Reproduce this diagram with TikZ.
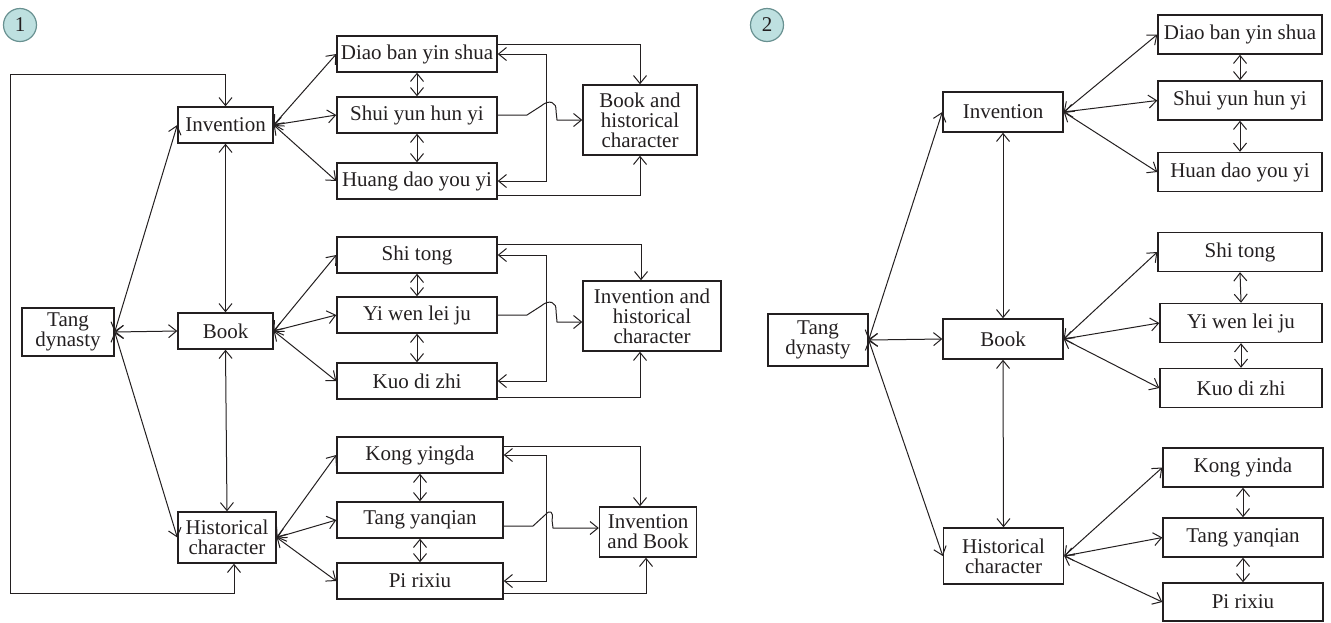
\documentclass[tikz,border=0pt]{standalone}
\usepackage{fontspec}
\setmainfont{Liberation Serif}
\usetikzlibrary{arrows.meta}
\definecolor{inkgray}{RGB}{35,31,32}
\definecolor{tealfill}{RGB}{190,224,224}
\definecolor{tealline}{RGB}{105,145,145}

\begin{document}
\begin{tikzpicture}[x=0.5pt,y=-0.5pt, color=inkgray, line width=0.5pt,
    >={Straight Barb[length=4pt,width=6.5pt]},
    every node/.style={font=\fontsize{10.5}{10}\selectfont, text=inkgray},
    box/.style={draw=inkgray, line width=0.7pt, inner sep=0pt, align=center},
    leafbox/.style={box, minimum width=80pt, minimum height=18pt},
    midbox/.style={box, minimum width=47.5pt, minimum height=18pt},
    numdot/.style={circle, draw=tealline, fill=tealfill, line width=0.6pt, minimum size=16.5pt, inner sep=0pt}]
		\useasboundingbox (0,0) rectangle (1331,622);

		\node[numdot] (num1) at (20,25) {1};
		\node[box, minimum width=46pt, minimum height=24pt] (tang1) at (68,332) {Tang\\dynasty};
		\node[midbox] (inv1) at (225.5,125) {Invention};
		\node[midbox] (book1) at (225.5,331) {Book};
		\node[box, minimum width=49pt, minimum height=25.5pt] (hist1) at (227,537.5) {Historical\\character};
		\node[leafbox] (diao1) at (417,54) {Diao ban yin shua};
		\node[leafbox] (shui1) at (417,115) {Shui yun hun yi};
		\node[leafbox] (huang1) at (417,181) {Huang dao you yi};
		\node[box, minimum width=57pt, minimum height=35pt] (bh1) at (640,120) {Book and\\historical\\character};
		\node[leafbox] (shi1) at (417,255) {Shi tong};
		\node[leafbox] (yiwen1) at (417,315) {Yi wen lei ju};
		\node[leafbox] (kuo1) at (417,381) {Kuo di zhi};
		\node[box, minimum width=69pt, minimum height=35pt] (ih1) at (652,316) {Invention and\\historical\\character};
		\node[leafbox, minimum width=83pt] (kong1) at (420,455) {Kong yingda};
		\node[leafbox, minimum width=83pt] (tangy1) at (420,520) {Tang yanqian};
		\node[leafbox, minimum width=83pt] (pi1) at (420,581) {Pi rixiu};
		\node[box, minimum width=48.5pt, minimum height=25pt] (ib1) at (648,532) {Invention\\and Book};

		\draw[<->] (tang1.east) -- (inv1.west);
		\draw[<->] (tang1.east) -- (book1.west);
		\draw[<->] (tang1.east) -- (hist1.west);
		\draw[<->] (inv1.south) -- (book1.north);
		\draw[<->] (book1.south) -- (hist1.north);
		\draw[<->] (inv1.north) |- (10,74) -- (10,593) -| ([xshift=3.5pt]hist1.south);

		\draw[<->] (inv1.east) -- (diao1.west);
		\draw[<->] (inv1.east) -- (shui1.west);
		\draw[<->] (inv1.east) -- (huang1.west);
		\draw[<->] (diao1.south) -- (shui1.north);
		\draw[<->] (shui1.south) -- (huang1.north);
		\draw[->] ([yshift=5pt]diao1.east) -| (bh1.north);
		\draw[<->] (diao1.east) -- (546,54) -- (546,181) -- (huang1.east);
		\draw[->] ([yshift=-7pt]huang1.east) -| (bh1.south);
		\draw[->] (shui1.east) -- (527,115) -- (541,106) .. controls (549,99) and (557,102) .. (556,111) -- (557,120) -- (bh1.west);

		\draw[<->] (book1.east) -- (shi1.west);
		\draw[<->] (book1.east) -- (yiwen1.west);
		\draw[<->] (book1.east) -- (kuo1.west);
		\draw[<->] (shi1.south) -- (yiwen1.north);
		\draw[<->] (yiwen1.south) -- (kuo1.north);
		\draw[->] ([yshift=5.5pt]shi1.east) -| ([xshift=-5.5pt]ih1.north);
		\draw[<->] (shi1.east) -- (546,255) -- (546,381) -- (kuo1.east);
		\draw[->] ([yshift=-8pt]kuo1.east) -| ([xshift=-6pt]ih1.south);
		\draw[->] (yiwen1.east) -- (527,315) -- (541,306) .. controls (549,299) and (557,302) .. (556,311) -- (557,322) -- ([yshift=-3pt]ih1.west);

		\draw[<->] (hist1.east) -- (kong1.west);
		\draw[<->] (hist1.east) -- (tangy1.west);
		\draw[<->] (hist1.east) -- (pi1.west);
		\draw[<->] (kong1.south) -- (tangy1.north);
		\draw[<->] (tangy1.south) -- (pi1.north);
		\draw[->] ([yshift=4.5pt]kong1.east) -| ([xshift=-4pt]ib1.north);
		\draw[<->] (kong1.east) -- (546,455) -- (546,581) -- (pi1.east);
		\draw[->] ([yshift=-6pt]pi1.east) -| ([xshift=-1pt]ib1.south);
		\draw[->] ([yshift=-3pt]tangy1.east) -- (533,526) -- (545,515) .. controls (550,509) and (554,512) .. (552,520) -- (553,528) -- ([yshift=2pt]ib1.west);

		\node[numdot] (num2) at (767,25) {2};
		\node[box, minimum width=50pt, minimum height=26pt] (tang2) at (818,340) {Tang\\dynasty};
		\node[box, minimum width=60pt, minimum height=20pt] (inv2) at (1003,112) {Invention};
		\node[box, minimum width=60pt, minimum height=20pt] (book2) at (1003,339) {Book};
		\node[box, minimum width=60pt, minimum height=28pt] (hist2) at (1003.5,556) {Historical\\character};
		\node[leafbox, minimum width=82pt, minimum height=19.5pt] (diao2) at (1240,34.5) {Diao ban yin shua};
		\node[leafbox, minimum width=82pt, minimum height=19.5pt] (shui2) at (1240,100.5) {Shui yun hun yi};
		\node[leafbox, minimum width=82pt, minimum height=19.5pt] (huan2) at (1240,172) {Huan dao you yi};
		\node[leafbox, minimum width=82pt, minimum height=19.5pt] (shi2) at (1240,252) {Shi tong};
		\node[leafbox, minimum width=81pt, minimum height=19.5pt] (yiwen2) at (1241,323) {Yi wen lei ju};
		\node[leafbox, minimum width=81pt, minimum height=19.5pt] (kuo2) at (1241,388) {Kuo di zhi};
		\node[leafbox, minimum width=80pt, minimum height=19.5pt] (kong2) at (1243,467.5) {Kong yinda};
		\node[leafbox, minimum width=80pt, minimum height=19.5pt] (tangy2) at (1243,537.5) {Tang yanqian};
		\node[leafbox, minimum width=80pt, minimum height=19pt] (pi2) at (1243,602) {Pi rixiu};

		\draw[<->] (tang2.east) -- (inv2.west);
		\draw[<->] (tang2.east) -- (book2.west);
		\draw[<->] (tang2.east) -- (hist2.west);
		\draw[<->] (inv2.south) -- (book2.north);
		\draw[<->] (book2.south) -- (hist2.north);

		\draw[<->] (inv2.east) -- (diao2.west);
		\draw[<->] (inv2.east) -- (shui2.west);
		\draw[<->] (inv2.east) -- (huan2.west);
		\draw[<->] (diao2.south) -- (shui2.north);
		\draw[<->] (shui2.south) -- (huan2.north);

		\draw[<->] (book2.east) -- (shi2.west);
		\draw[<->] (book2.east) -- (yiwen2.west);
		\draw[<->] (book2.east) -- (kuo2.west);
		\draw[<->] (shi2.south) -- (yiwen2.north);
		\draw[<->] (yiwen2.south) -- (kuo2.north);

		\draw[<->] (hist2.east) -- (kong2.west);
		\draw[<->] (hist2.east) -- (tangy2.west);
		\draw[<->] (hist2.east) -- (pi2.west);
		\draw[<->] (kong2.south) -- (tangy2.north);
		\draw[<->] (tangy2.south) -- (pi2.north);
	\end{tikzpicture}
\end{document}
